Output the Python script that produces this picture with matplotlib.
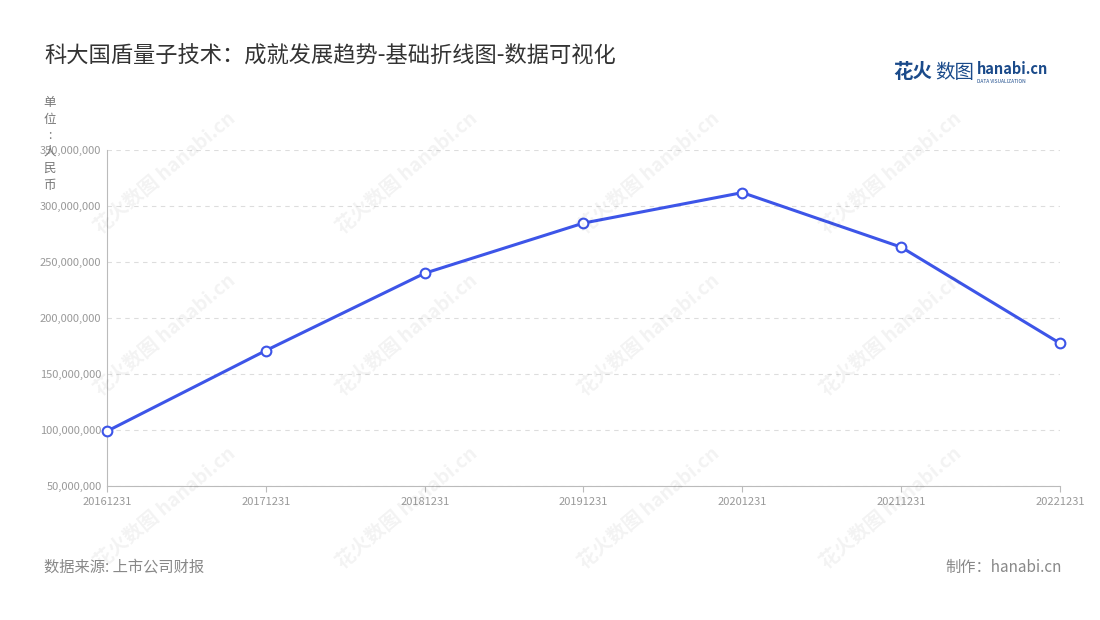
import matplotlib
matplotlib.use("Agg")
import matplotlib.pyplot as plt
from matplotlib.ticker import FuncFormatter

plt.rcParams['font.family'] = ['Noto Sans CJK SC', 'DejaVu Sans']

years = ["20161231", "20171231", "20181231", "20191231", "20201231", "20211231", "20221231"]
values = [99000000, 171000000, 240000000, 284800000, 312000000, 263300000, 177500000]
yticks = [50000000, 100000000, 150000000, 200000000, 250000000, 300000000, 350000000]

fig = plt.figure(figsize=(11, 6.2), dpi=100)
ax = fig.add_axes([0.0973, 0.216, 0.8663, 0.542])
x = list(range(len(years)))
ax.plot(x, values, color='#3d55e8', lw=2.2, marker='o', ms=7, mfc='white', mec='#3d55e8', mew=1.5, zorder=3, clip_on=False)
ax.set_xlim(0, len(years) - 1)
ax.set_ylim(50000000, 350000000)
ax.set_yticks(yticks)
ax.yaxis.set_major_formatter(FuncFormatter(lambda v, p: f"{int(v):,}"))
ax.set_xticks(x)
ax.set_xticklabels(years)
ax.tick_params(axis='both', labelsize=8, colors='#999999', length=0, pad=4)
ax.tick_params(axis='x', length=4, color='#bbbbbb')
ax.grid(axis='y', ls=(0, (4, 4)), color='#dddddd', lw=0.8)
for s in ['top', 'right']:
    ax.spines[s].set_visible(False)
ax.spines['left'].set_color('#bbbbbb')
ax.spines['bottom'].set_color('#bbbbbb')

# watermarks
for wx in [0.15, 0.37, 0.59, 0.81]:
    for wy in [0.72, 0.46, 0.18]:
        fig.text(wx, wy, "花火数图 hanabi.cn", rotation=40, fontsize=14, color='#000000', alpha=0.05,
                 ha='center', va='center', fontweight='bold')

fig.text(0.04, 0.91, "科大国盾量子技术：成就发展趋势-基础折线图-数据可视化", fontsize=16, color='#333333', va='center')
fig.text(0.045, 0.845, "单\n位\n:\n人\n民\n币", fontsize=9, color='#777777', va='top', ha='center', linespacing=1.35)
fig.text(0.04, 0.085, "数据来源: 上市公司财报", fontsize=11, color='#888888', va='center')
fig.text(0.965, 0.085, "制作：hanabi.cn", fontsize=11, color='#888888', va='center', ha='right')
fig.text(0.812, 0.883, "花火", fontsize=14, color='#1a4a8a', fontweight='bold', va='center')
fig.text(0.850, 0.883, "数图", fontsize=14, color='#1a4a8a', va='center')
fig.text(0.888, 0.888, "hanabi.cn", fontsize=10.5, color='#1a4a8a', fontweight='bold', va='center')
fig.text(0.888, 0.868, "DATA VISUALIZATION", fontsize=3.5, color='#1a4a8a', va='center')

fig.savefig("out.png", dpi=100)
